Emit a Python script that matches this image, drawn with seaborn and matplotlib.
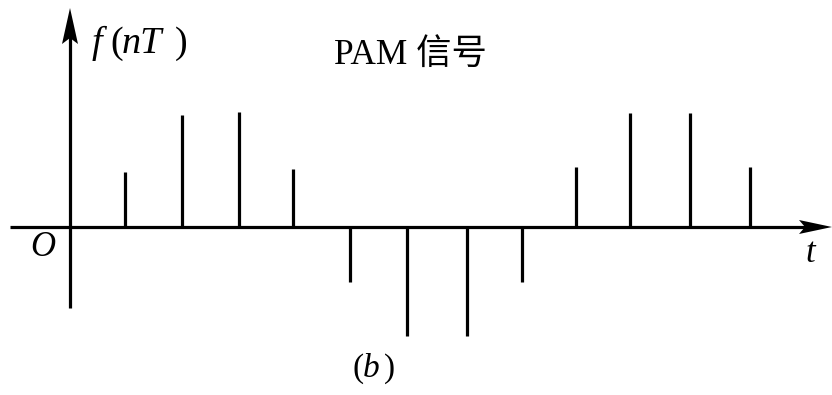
import matplotlib
matplotlib.use("Agg")
import matplotlib.pyplot as plt
from matplotlib.patches import Polygon
import seaborn as sns
import pandas as pd

# Sample instants (nT) and PAM pulse amplitudes
sample_times = [55, 112, 169, 223, 280, 337, 397, 452, 506, 560, 620, 680]
amplitudes = [55, 112, 115, 58, -55, -109, -109, -55, 60, 114, 114, 60]

title_text = "PAM 信号"
x_label = "t"
origin_label = "O"

sns.set_theme(style="white")
plt.rcParams["font.family"] = ["Liberation Serif", "Noto Sans CJK SC"]
plt.rcParams["text.color"] = "black"

df = pd.DataFrame({"t": sample_times, "f": amplitudes})

fig = plt.figure(figsize=(8.32, 3.95), dpi=100)
ax = fig.add_axes([0, 0, 1, 1])
ax.set_xlim(-70, 762)
ax.set_ylim(-168, 227)
ax.axis("off")

lw = 2.3
# Pulses
ax.vlines(df["t"], 0, df["f"], color="black", linewidth=lw)

# Axes with arrowheads
ax.plot([-60, 735], [0, 0], color="black", linewidth=lw, solid_capstyle="butt")
ax.plot([0, 0], [-81, 190], color="black", linewidth=lw, solid_capstyle="butt")

def arrow_head(tip, direction, length, half_w, notch):
    tx, ty = tip
    dx, dy = direction
    px, py = -dy, dx
    bx, by = tx - dx * length, ty - dy * length
    nx, ny = tx - dx * (length - notch), ty - dy * (length - notch)
    pts = [(tx, ty),
           (bx + px * half_w, by + py * half_w),
           (nx, ny),
           (bx - px * half_w, by - py * half_w)]
    ax.add_patch(Polygon(pts, closed=True, color="black", lw=0))

arrow_head((762, 0), (1, 0), 33, 7, 6)
arrow_head((0, 219), (0, 1), 36, 8, 6)

def pieces(parts, y, size):
    """Draw a label from (x, text, italic) pieces sharing one baseline."""
    for x, s, it in parts:
        ax.text(x, y, s, fontsize=size, ha="left", va="baseline",
                fontstyle="italic" if it else "normal", color="black")

# f(nT) beside the vertical axis
pieces([(22, "f", True), (40, "(", False), (52, "nT", True), (105, ")", False)],
       174, 27.5)
# (b) caption
pieces([(282, "(", False), (293, "b", True), (314, ")", False)], -150, 24)

ax.text(340, 172, title_text, fontsize=25.5, ha="center", va="center",
        color="black")
ax.text(-27, -21, origin_label, fontsize=25, ha="center", va="center",
        fontstyle="italic", color="black")
ax.text(740, -26, x_label, fontsize=25, ha="center", va="center",
        fontstyle="italic", color="black")

fig.savefig("out.png", dpi=100)
